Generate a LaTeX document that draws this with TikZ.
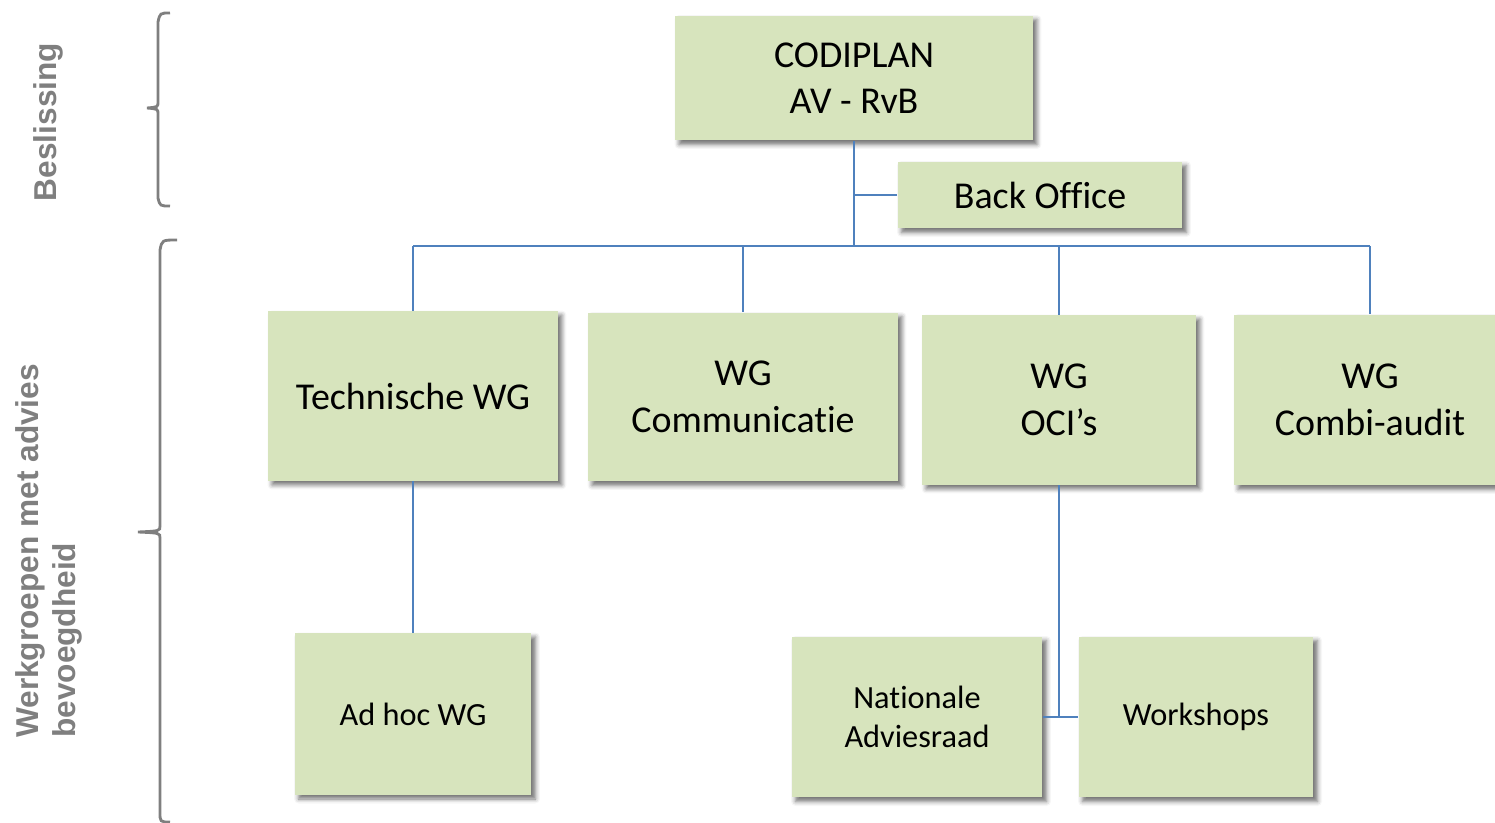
\documentclass[tikz,border=0pt]{standalone}
\usepackage{fontspec}
\setmainfont{Carlito}[Ligatures=NoCommon]
\newfontfamily\sidefont{Liberation Sans}
\usetikzlibrary{shadows.blur}

\definecolor{boxgreen}{HTML}{D7E4BD}
\definecolor{linkblue}{HTML}{4F81BD}
\definecolor{sidegray}{HTML}{7F7F7F}

\begin{document}
\begin{tikzpicture}[x=0.02cm, y=-0.02cm]
          \tikzset{OrgBox/.style={fill=boxgreen, draw=none, align=center,
              inner sep=0pt, font=\fontsize{21.6}{26.5}\selectfont,
              blur shadow={shadow xshift=0.08cm, shadow yshift=-0.08cm,
                shadow blur radius=0.09cm, shadow opacity=55}}}
          \tikzset{SmallBox/.style={OrgBox, font=\fontsize{18.4}{22}\selectfont}}
          \tikzset{Link/.style={draw=linkblue, line width=1.2pt}}
          \tikzset{Brace/.style={draw=sidegray, line width=1.6pt}}
          \tikzset{SideLabel/.style={text=sidegray, rotate=90, align=left,
              font=\sidefont\bfseries\fontsize{18}{21}\selectfont}}

          \useasboundingbox (0,0) rectangle (1495,822);

          % top level
          \node[OrgBox, minimum width=7.16cm, minimum height=2.5cm] (codiplan)
            at (854,78) {CODIPLAN\\AV - RvB};
          \node[OrgBox, minimum width=5.7cm, minimum height=1.34cm] (backoffice)
            at (1040,195) {Back Office};

          % werkgroepen
          \node[OrgBox, minimum width=5.8cm, minimum height=3.4cm] (techwg)
            at (413,396) {Technische WG};
          \node[OrgBox, minimum width=6.2cm, minimum height=3.38cm] (commwg)
            at (743,397) {WG\\Communicatie};
          \node[OrgBox, minimum width=5.48cm, minimum height=3.4cm] (ociwg)
            at (1059,400) {WG\\OCI’s};
          \node[OrgBox, minimum width=5.44cm, minimum height=3.42cm] (combiwg)
            at (1370,400) {WG\\Combi-audit};

          % onder
          \node[SmallBox, minimum width=4.74cm, minimum height=3.24cm] (adhoc)
            at (413,714) {Ad hoc WG};
          \node[SmallBox, minimum width=5.02cm, minimum height=3.22cm] (adviesraad)
            at (917,717) {Nationale\\Adviesraad};
          \node[SmallBox, minimum width=4.7cm, minimum height=3.22cm] (workshops)
            at (1196,717) {Workshops};

          \coordinate (bus) at (854,246);

          \draw[Link] (codiplan.south) -- (bus);
          \draw[Link] (backoffice.west) -- (backoffice.west -| bus);
          \draw[Link] (bus -| techwg.north) -- (bus -| combiwg.north);
          \foreach \wg in {techwg, commwg, ociwg, combiwg}
            \draw[Link] (bus -| \wg.north) -- (\wg.north);
          \draw[Link] (techwg.south) -- (adhoc.north);
          \draw[Link] (ociwg.south) -- (ociwg.south |- adviesraad.east);
          \draw[Link] (adviesraad.east) -- (workshops.west);

          % accolades links
          \draw[Brace] (170,13) .. controls (160,13) .. (158,22) -- (158,102)
            .. controls (158,107) .. (147,108) .. controls (158,109) .. (158,114)
            -- (158,198) .. controls (160,206) .. (170,206);
          \draw[Brace] (177,240) .. controls (162,240) .. (160,250) -- (160,526)
            .. controls (160,531) .. (138,532) .. controls (160,533) .. (160,538)
            -- (160,812) .. controls (160,822) .. (170,822);

          \node[SideLabel] (beslissing) at (48,122) {Beslissing};
          \node[SideLabel, anchor=west] (werkgroepen) at (49,744)
            {Werkgroepen met advies\\bevoegdheid};
        \end{tikzpicture}
\end{document}
